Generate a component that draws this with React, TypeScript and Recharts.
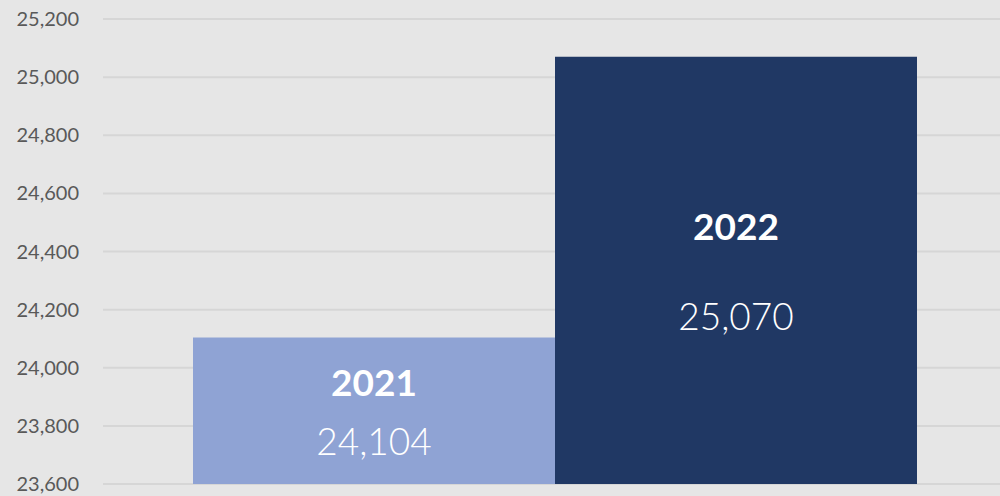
import React from 'react';
import { BarChart, Bar, XAxis, YAxis, CartesianGrid, Cell, LabelList } from 'recharts';

const years = ['2021', '2022'];
const totals = [24104, 25070];
const barColors = ['#8FA3D4', '#203864'];
const yTicks = [23600, 23800, 24000, 24200, 24400, 24600, 24800, 25000, 25200];

const data = years.map((year, i) => ({ year, total: totals[i] }));

const fmt = (v: number) => v.toLocaleString('en-US');

// two-line label inside each bar: bold year above, light value below
const BarText = (props: any) => {
  const { x, y, width, height, index } = props;
  const cx = x + width / 2;
  const mid = y + height / 2;
  const spread = 21 + height * 0.057;
  return (
    <g>
      <text x={cx} y={mid - spread} textAnchor="middle" dominantBaseline="central"
        fill="#fff" fontSize={37} fontWeight={700} fontFamily="Lato, sans-serif">
        {years[index]}
      </text>
      <text x={cx} y={mid + spread} textAnchor="middle" dominantBaseline="central"
        fill="#fff" fontSize={37} fontWeight={300} fontFamily="Lato, sans-serif">
        {fmt(totals[index])}
      </text>
    </g>
  );
};

export default function App() {
  return (
    <div style={{ position: 'absolute', top: 0, left: 0, width: 1000, height: 496, background: '#E6E6E6' }}>
      <BarChart width={1000} height={496} data={data} barCategoryGap={0}
        margin={{ top: 19, right: 0, bottom: 12, left: 0 }}>
        <CartesianGrid horizontal vertical={false} stroke="#D6D6D6" strokeWidth={2} />
        <XAxis dataKey="year" hide padding={{ left: 90, right: 83 }} />
        <YAxis
          domain={[23600, 25200]}
          ticks={yTicks}
          allowDataOverflow
          width={103}
          axisLine={false}
          tickLine={false}
          tickSize={0}
          tickMargin={24}
          tickFormatter={fmt}
          tick={{ fill: '#595959', fontSize: 20, fontFamily: 'Lato, sans-serif' }}
        />
        <Bar dataKey="total" isAnimationActive={false}>
          {data.map((d, i) => (
            <Cell key={d.year} fill={barColors[i]} />
          ))}
          <LabelList dataKey="total" content={BarText} />
        </Bar>
      </BarChart>
    </div>
  );
}
